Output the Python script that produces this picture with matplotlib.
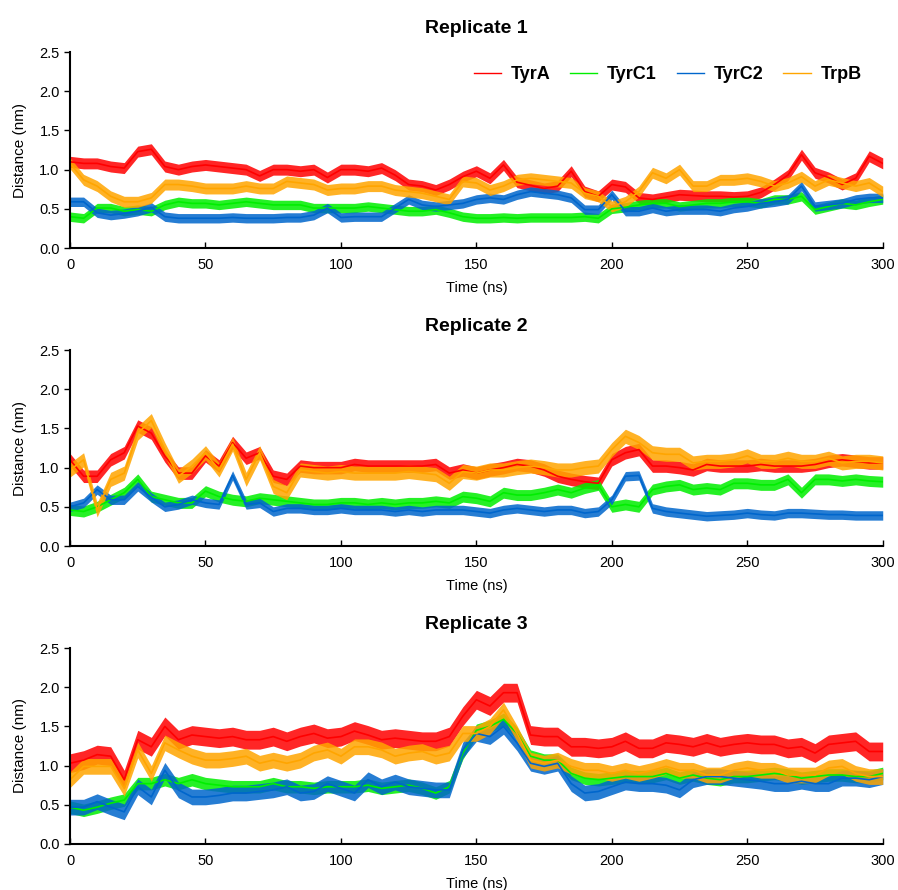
import matplotlib
matplotlib.use("Agg")
import matplotlib.pyplot as plt
import numpy as np

plt.rcParams["font.family"] = ["Liberation Sans", "DejaVu Sans"]

# sampled every 5 ns, 0..300
time_ns = np.arange(0, 301, 5)
labels = ["TyrA", "TyrC1", "TyrC2", "TrpB"]
colors = ["#FF0000", "#00EE00", "#0066CC", "#FFA500"]

rep1_tyra = [1.10, 1.08, 1.08, 1.04, 1.02, 1.23, 1.26, 1.04, 1.00, 1.04, 1.06, 1.04, 1.02, 1.00, 0.92, 1.00,
             1.00, 0.98, 1.00, 0.90, 1.00, 1.00, 0.98, 1.02, 0.93, 0.81, 0.79, 0.74, 0.81, 0.91, 0.98,
             0.89, 1.06, 0.84, 0.80, 0.76, 0.79, 0.98, 0.72, 0.66, 0.81, 0.78, 0.64, 0.62, 0.65, 0.68,
             0.67, 0.66, 0.66, 0.65, 0.66, 0.71, 0.81, 0.93, 1.19, 0.96, 0.90, 0.81, 0.89, 1.17, 1.08]
rep1_tyrc1 = [0.40, 0.38, 0.51, 0.51, 0.47, 0.49, 0.47, 0.55, 0.59, 0.57, 0.57, 0.55, 0.57, 0.59, 0.57, 0.55,
              0.55, 0.55, 0.51, 0.51, 0.51, 0.51, 0.53, 0.51, 0.49, 0.47, 0.47, 0.49, 0.45, 0.40, 0.38,
              0.38, 0.39, 0.38, 0.39, 0.39, 0.39, 0.39, 0.40, 0.38, 0.50, 0.52, 0.55, 0.57, 0.57, 0.53,
              0.55, 0.57, 0.57, 0.59, 0.59, 0.57, 0.62, 0.62, 0.66, 0.49, 0.53, 0.57, 0.55, 0.59, 0.62]
rep1_tyrc2 = [0.59, 0.59, 0.45, 0.42, 0.44, 0.47, 0.52, 0.40, 0.38, 0.38, 0.38, 0.38, 0.39, 0.38, 0.38, 0.38,
              0.39, 0.39, 0.42, 0.51, 0.39, 0.40, 0.40, 0.40, 0.51, 0.62, 0.55, 0.53, 0.55, 0.57, 0.62,
              0.64, 0.62, 0.68, 0.72, 0.70, 0.68, 0.64, 0.49, 0.49, 0.68, 0.47, 0.47, 0.51, 0.47, 0.49,
              0.49, 0.49, 0.47, 0.51, 0.53, 0.57, 0.59, 0.62, 0.79, 0.53, 0.55, 0.57, 0.62, 0.64, 0.64]
rep1_trpb = [1.08, 0.87, 0.79, 0.66, 0.59, 0.59, 0.64, 0.81, 0.81, 0.79, 0.76, 0.76, 0.76, 0.79, 0.76, 0.76,
             0.85, 0.83, 0.81, 0.74, 0.76, 0.76, 0.79, 0.79, 0.74, 0.72, 0.70, 0.66, 0.62, 0.85, 0.83,
             0.74, 0.79, 0.87, 0.89, 0.87, 0.85, 0.83, 0.70, 0.66, 0.53, 0.59, 0.72, 0.96, 0.89, 1.00,
             0.79, 0.79, 0.87, 0.87, 0.89, 0.85, 0.79, 0.83, 0.91, 0.79, 0.87, 0.83, 0.79, 0.83, 0.72]

rep2_tyra = [1.10, 0.89, 0.89, 1.10, 1.19, 1.53, 1.44, 1.15, 0.93, 0.93, 1.15, 1.02, 1.32, 1.12, 1.19, 0.89,
             0.85, 1.02, 1.00, 1.00, 1.00, 1.04, 1.02, 1.02, 1.02, 1.02, 1.02, 1.04, 0.93, 0.97, 0.93,
             0.97, 1.00, 1.04, 1.02, 0.97, 0.89, 0.85, 0.82, 0.80, 1.10, 1.19, 1.23, 1.02, 1.02, 1.00,
             0.97, 1.04, 1.02, 1.02, 1.02, 1.04, 1.02, 1.02, 1.02, 1.04, 1.08, 1.10, 1.08, 1.06, 1.06]
rep2_tyrc1 = [0.46, 0.44, 0.50, 0.59, 0.68, 0.85, 0.63, 0.59, 0.55, 0.55, 0.70, 0.63, 0.59, 0.57, 0.61, 0.59,
              0.57, 0.55, 0.53, 0.53, 0.55, 0.55, 0.53, 0.55, 0.53, 0.55, 0.55, 0.57, 0.55, 0.63, 0.61,
              0.57, 0.68, 0.65, 0.65, 0.68, 0.72, 0.68, 0.74, 0.78, 0.50, 0.53, 0.50, 0.72, 0.76, 0.78,
              0.72, 0.74, 0.72, 0.80, 0.80, 0.78, 0.78, 0.85, 0.68, 0.85, 0.85, 0.83, 0.85, 0.83, 0.82]
rep2_tyrc2 = [0.50, 0.55, 0.72, 0.59, 0.59, 0.76, 0.62, 0.50, 0.53, 0.59, 0.55, 0.53, 0.90, 0.53, 0.55, 0.44,
              0.48, 0.48, 0.46, 0.46, 0.48, 0.46, 0.46, 0.46, 0.44, 0.46, 0.44, 0.46, 0.46, 0.46, 0.44,
              0.42, 0.46, 0.48, 0.46, 0.44, 0.46, 0.46, 0.42, 0.44, 0.59, 0.89, 0.90, 0.48, 0.44, 0.42,
              0.40, 0.38, 0.39, 0.40, 0.42, 0.40, 0.39, 0.42, 0.42, 0.41, 0.40, 0.40, 0.39, 0.39, 0.39]
rep2_trpb = [0.97, 1.10, 0.46, 0.85, 0.93, 1.44, 1.60, 1.23, 0.89, 1.02, 1.19, 0.97, 1.30, 0.85, 1.19, 0.76,
             0.68, 0.97, 0.95, 0.93, 0.95, 0.93, 0.93, 0.93, 0.93, 0.95, 0.93, 0.91, 0.80, 0.95, 0.93,
             0.97, 0.97, 1.00, 1.02, 1.00, 0.97, 0.97, 1.00, 1.02, 1.23, 1.40, 1.32, 1.19, 1.17, 1.17,
             1.06, 1.08, 1.08, 1.10, 1.15, 1.08, 1.08, 1.12, 1.08, 1.08, 1.12, 1.06, 1.08, 1.08, 1.06]

rep3_tyra = [1.03, 1.07, 1.14, 1.12, 0.82, 1.33, 1.24, 1.50, 1.33, 1.39, 1.37, 1.35, 1.37, 1.33, 1.33, 1.37,
             1.31, 1.37, 1.41, 1.35, 1.37, 1.44, 1.39, 1.33, 1.35, 1.33, 1.31, 1.31, 1.37, 1.63, 1.84,
             1.76, 1.93, 1.93, 1.39, 1.37, 1.37, 1.24, 1.24, 1.22, 1.24, 1.31, 1.22, 1.22, 1.29, 1.27,
             1.24, 1.29, 1.24, 1.27, 1.29, 1.27, 1.27, 1.22, 1.24, 1.16, 1.27, 1.29, 1.31, 1.18, 1.18]
rep3_tyrc1 = [0.47, 0.43, 0.47, 0.52, 0.56, 0.77, 0.77, 0.82, 0.77, 0.82, 0.77, 0.75, 0.73, 0.73, 0.73, 0.77,
              0.73, 0.73, 0.71, 0.73, 0.73, 0.73, 0.75, 0.71, 0.73, 0.75, 0.71, 0.65, 0.73, 1.16, 1.45,
              1.50, 1.59, 1.41, 1.12, 1.07, 1.07, 0.90, 0.84, 0.82, 0.84, 0.86, 0.86, 0.86, 0.90, 0.84,
              0.88, 0.84, 0.82, 0.86, 0.86, 0.88, 0.90, 0.88, 0.84, 0.86, 0.88, 0.88, 0.86, 0.86, 0.90]
rep3_tyrc2 = [0.47, 0.47, 0.54, 0.47, 0.41, 0.73, 0.60, 0.94, 0.69, 0.60, 0.60, 0.62, 0.65, 0.65, 0.67, 0.69,
              0.73, 0.65, 0.67, 0.77, 0.71, 0.65, 0.82, 0.73, 0.79, 0.73, 0.71, 0.69, 0.69, 1.20, 1.41,
              1.37, 1.50, 1.29, 1.03, 0.99, 1.03, 0.77, 0.65, 0.67, 0.73, 0.79, 0.77, 0.77, 0.75, 0.69,
              0.82, 0.86, 0.86, 0.84, 0.82, 0.80, 0.77, 0.77, 0.80, 0.77, 0.77, 0.84, 0.84, 0.82, 0.86]
rep3_trpb = [0.82, 0.99, 0.99, 0.99, 0.71, 1.20, 0.90, 1.29, 1.20, 1.12, 1.07, 1.07, 1.09, 1.12, 1.03, 1.07,
             1.03, 1.07, 1.16, 1.20, 1.12, 1.24, 1.24, 1.20, 1.12, 1.16, 1.18, 1.12, 1.16, 1.41, 1.41,
             1.50, 1.71, 1.41, 1.07, 1.03, 1.07, 0.99, 0.94, 0.94, 0.90, 0.94, 0.90, 0.94, 0.99, 0.94,
             0.94, 0.88, 0.88, 0.94, 0.97, 0.94, 0.94, 0.88, 0.88, 0.88, 0.97, 0.99, 0.90, 0.86, 0.86]

# half-width of the thermal-noise band around each trace (nm)
rep1_noise = [0.07, 0.06, 0.06, 0.07]
rep2_noise = [0.08, 0.07, 0.06, 0.09]
rep3_noise = [0.12, 0.08, 0.10, 0.10]

replicates = [
    ("Replicate 1", [rep1_tyra, rep1_tyrc1, rep1_tyrc2, rep1_trpb], rep1_noise),
    ("Replicate 2", [rep2_tyra, rep2_tyrc1, rep2_tyrc2, rep2_trpb], rep2_noise),
    ("Replicate 3", [rep3_tyra, rep3_tyrc1, rep3_tyrc2, rep3_trpb], rep3_noise),
]

fig = plt.figure(figsize=(8.98, 8.90), dpi=100)
bottoms = [0.7213, 0.3865, 0.0517]
height = 0.2202

for k, (title, series, noise) in enumerate(replicates):
    ax = fig.add_axes([0.078, bottoms[k], 0.905, height])
    for vals, hw, c, lab in zip(series, noise, colors, labels):
        v = np.asarray(vals)
        ax.fill_between(time_ns, v - hw, v + hw, color=c, lw=0, alpha=0.85)
        ax.plot(time_ns, v, color=c, lw=1.2, label=lab)
    ax.set_xlim(0, 300)
    ax.set_ylim(0, 2.5)
    ax.set_xticks(np.arange(0, 301, 50))
    ax.set_yticks(np.arange(0, 2.51, 0.5))
    ax.yaxis.set_major_formatter(plt.FormatStrFormatter("%.1f"))
    ax.spines[["top", "right"]].set_visible(False)
    ax.spines[["left", "bottom"]].set_linewidth(1.5)
    ax.tick_params(axis="x", direction="in", length=4, width=1, labelsize=10.5, pad=7)
    ax.tick_params(axis="y", direction="out", length=4, width=1, labelsize=10.5)
    ax.set_xlabel("Time (ns)", fontsize=10.5, labelpad=7)
    ax.set_ylabel("Distance (nm)", fontsize=11, labelpad=9)
    ax.set_title(title, fontsize=14, fontweight="bold", pad=14)
    if k == 0:
        leg = ax.legend(loc="upper right", bbox_to_anchor=(0.994, 1.01), ncol=4, frameon=False,
                        handlelength=1.5, handletextpad=0.55, columnspacing=1.1,
                        prop={"weight": "bold", "size": 13})
        for h in leg.get_lines():
            h.set_linewidth(1.0)

fig.savefig("out.png", dpi=100)
